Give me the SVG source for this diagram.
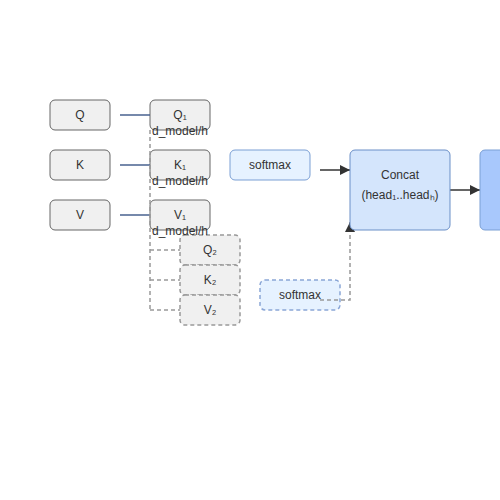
<svg xmlns="http://www.w3.org/2000/svg" width="500" height="500" viewBox="0 0 500 500">
<style>
text{font-family:"Liberation Sans",Arial,sans-serif;font-size:12px;fill:#333;text-anchor:middle;dominant-baseline:central}
.in{fill:#f0f0f0;stroke:#666;stroke-width:1}
.hd{fill:#f0f0f0;stroke:#999;stroke-width:1.5;stroke-dasharray:4,3}
.sm{fill:#e6f2ff;stroke:#7a9fd4;stroke-width:1}
.smd{fill:#e6f2ff;stroke:#8aa6d6;stroke-width:1.5;stroke-dasharray:4,3}
.cc{fill:#d4e5fc;stroke:#6b8fc7;stroke-width:1}
.out{fill:#a8c8fc;stroke:#7a9fd4;stroke-width:1}
.lk{stroke:#4a6390;stroke-width:1.5;fill:none}
.dl{stroke:#999;stroke-width:1.5;stroke-dasharray:4,3;fill:none}
.ar{stroke:#333;stroke-width:1.5;fill:none}
.dm{text-anchor:start}
</style>
<defs>
<marker id="ah" viewBox="0 0 10 10" refX="10" refY="5" markerWidth="10" markerHeight="10" markerUnits="userSpaceOnUse" orient="auto"><path d="M0,0L10,5L0,10z" fill="#333"/></marker>
</defs>
<rect width="500" height="500" fill="#fff"/>
<g id="q"><rect class="in" x="50" y="100" width="60" height="30" rx="5"/><text x="80" y="115">Q</text></g>
<g id="k"><rect class="in" x="50" y="150" width="60" height="30" rx="5"/><text x="80" y="165">K</text></g>
<g id="v"><rect class="in" x="50" y="200" width="60" height="30" rx="5"/><text x="80" y="215">V</text></g>
<g id="q1"><rect class="in" x="150" y="100" width="60" height="30" rx="5"/><text x="180" y="115">Q₁</text></g>
<g id="k1"><rect class="in" x="150" y="150" width="60" height="30" rx="5"/><text x="180" y="165">K₁</text></g>
<g id="v1"><rect class="in" x="150" y="200" width="60" height="30" rx="5"/><text x="180" y="215">V₁</text></g>
<g id="q2"><rect class="hd" x="180" y="235" width="60" height="30" rx="5"/><text x="210" y="250">Q₂</text></g>
<g id="k2"><rect class="hd" x="180" y="265" width="60" height="30" rx="5"/><text x="210" y="280">K₂</text></g>
<g id="v2"><rect class="hd" x="180" y="295" width="60" height="30" rx="5"/><text x="210" y="310">V₂</text></g>
<g id="dims"><text class="dm" x="152" y="131">d_model/h</text><text class="dm" x="152" y="181">d_model/h</text><text class="dm" x="152" y="231">d_model/h</text></g>
<g id="softmax1"><rect class="sm" x="230" y="150" width="80" height="30" rx="5"/><text x="270" y="165">softmax</text></g>
<g id="softmax2"><rect class="smd" x="260" y="280" width="80" height="30" rx="5"/><text x="300" y="295">softmax</text></g>
<g id="connectors">
<path class="lk" d="M120,115H150M120,165H150M120,215H150"/>
<path class="dl" d="M150,130V310M150,250H180M150,280H180M150,310H180"/>
<path class="dl" d="M320,300H350V222" marker-end="url(#ah)"/>
<path class="ar" d="M320,170H350" marker-end="url(#ah)"/>
<path class="ar" d="M450,190H480" marker-end="url(#ah)"/>
</g>
<g id="concat"><rect class="cc" x="350" y="150" width="100" height="80" rx="5"/><text x="400" y="175">Concat</text><text x="400" y="195">(head₁..headₕ)</text></g>
<g id="output"><rect class="out" x="480" y="150" width="100" height="80" rx="5"/></g>
</svg>
